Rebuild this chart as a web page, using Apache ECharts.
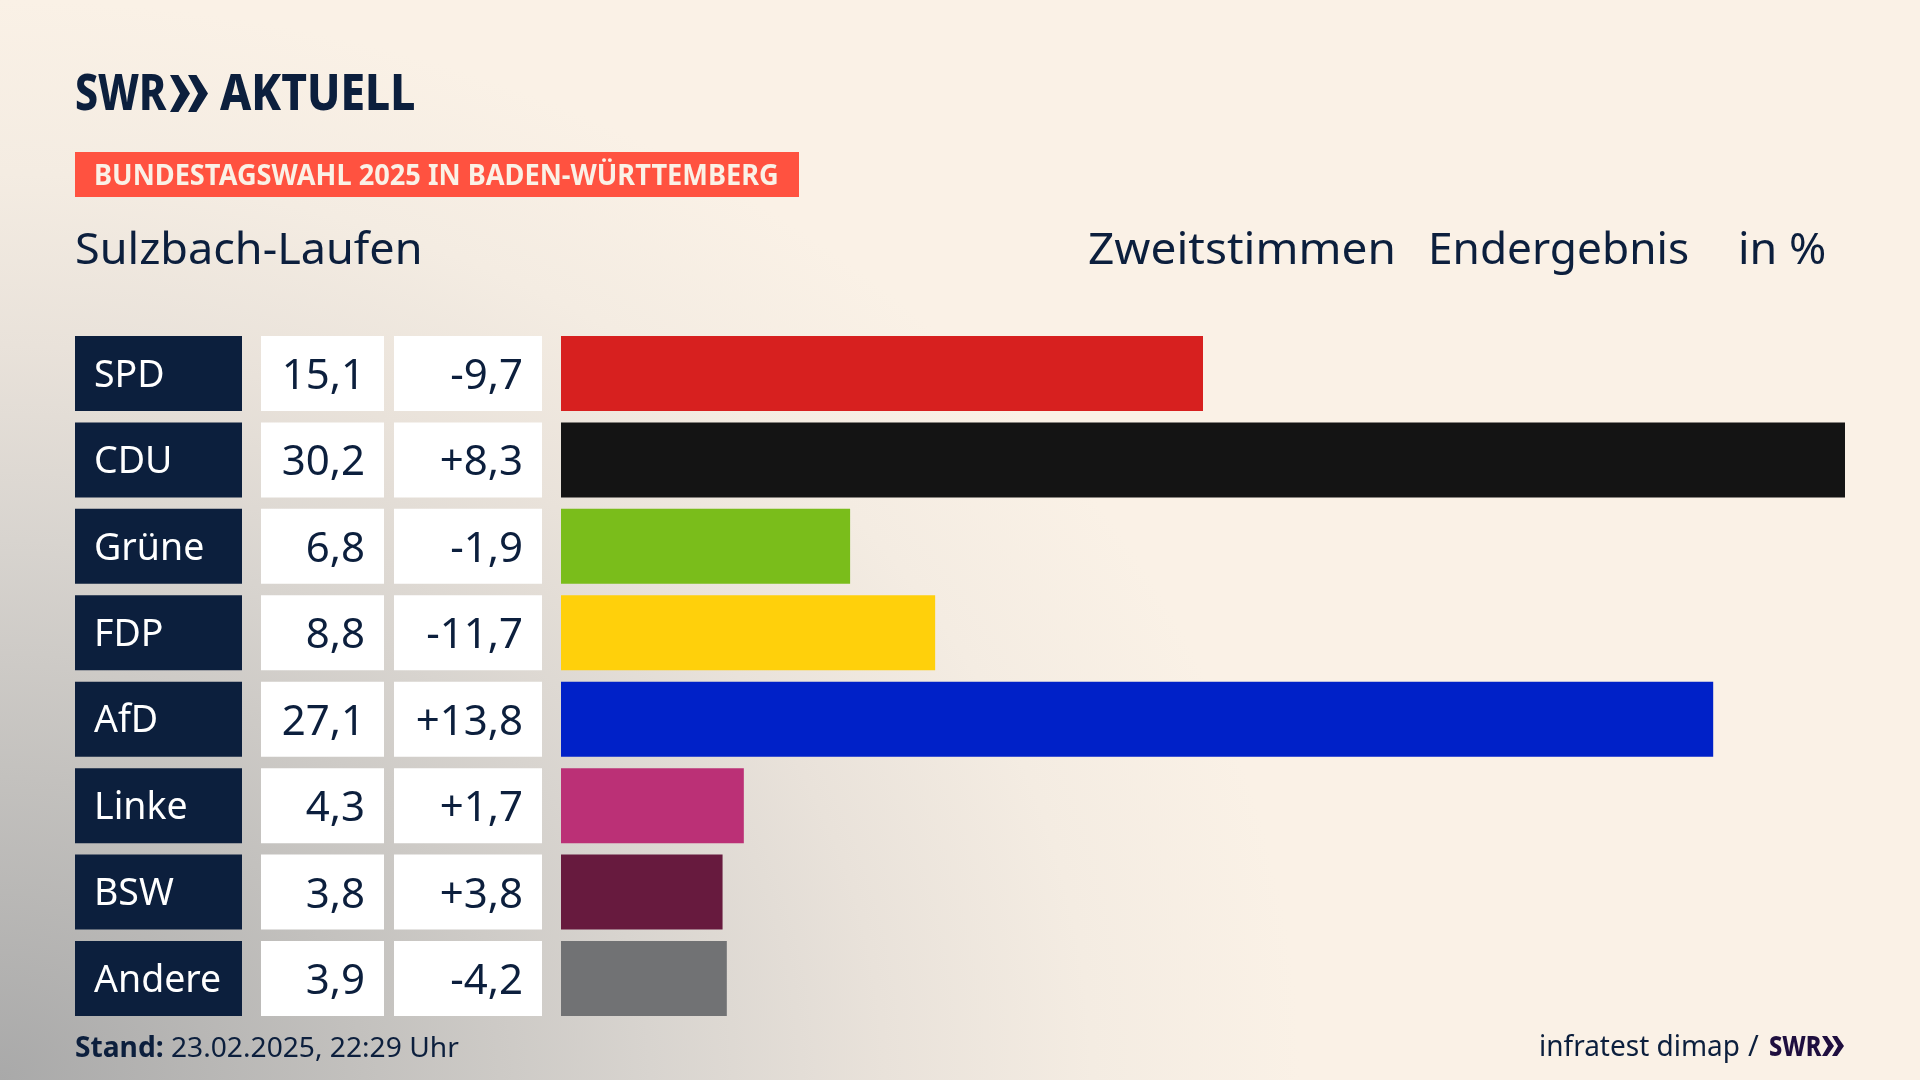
<!DOCTYPE html>
<html>
<head>
<meta charset="utf-8">
<title>Sulzbach-Laufen</title>
<style>
body {margin: 0; background-color: #faf1e6; background-image: radial-gradient(ellipse 1300px 1080px at 0px 1080px, #a9a9a9 0%, #c3c1be 28%, #d8d4cf 50%, #e9e2da 68%, #f4ece2 84%, #faf1e6 100%);}
#echart {height: 1080px; width: 1920px;}
</style>
</head>
<body>
<div id='echart'></div>
<script src='https://cdn.jsdelivr.net/npm/echarts@6/dist/echarts.min.js'></script>
<script>
let parties = ['SPD', 'CDU', 'Grüne', 'FDP', 'AfD', 'Linke', 'BSW', 'Andere']
let shares = [15.1, 30.2, 6.8, 8.8, 27.1, 4.3, 3.8, 3.9]
let changes = [-9.7, 8.3, -1.9, -11.7, 13.8, 1.7, 3.8, -4.2]
let colors = ['#d7201f', '#141414', '#7abd1b', '#ffd00b', '#0021c8', '#bb3076', '#671a3e', '#717274']

let navy = '#0c1f3d'
let rows_top = 330.3
let rows_height = 691.4

let de = (v) => v.toFixed(1).replace('.', ',')
let signed = (v) => (v > 0 ? '+' : '') + de(v)

// one grid per column, all rows share the same band
let columns = [
	{left: 75, width: 167, color: navy},
	{left: 261, width: 123, color: '#ffffff'},
	{left: 394, width: 148, color: '#ffffff'},
	{left: 561, width: 1284},
]
let grid = columns.map((c) => ({left: c.left, width: c.width, top: rows_top, height: rows_height}))
let xAxis = columns.map((c, i) => ({type: 'value', gridIndex: i, min: 0, max: i == 3 ? 30.2 : 1, show: false}))
let yAxis = columns.map((c, i) => ({type: 'category', gridIndex: i, data: parties, inverse: true, show: false}))

function cell(i, labels, color, position, size, dy) {
	return {
		type: 'bar', xAxisIndex: i, yAxisIndex: i, barWidth: 75, silent: true,
		data: parties.map(() => 1),
		itemStyle: {color: columns[i].color},
		label: {show: true, position: position, distance: 19, offset: [0, dy], formatter: (p) => labels[p.dataIndex], color: color, fontFamily: 'Noto Sans', fontSize: size},
	}
}

function chevrons(x, y0, y1, w, gap, fill) {
	let ym = (y0 + y1) / 2
	return [0, 1].map((n) => {
		let a = x + n * gap
		return {type: 'polygon', shape: {points: [[a, y0], [a + w * 0.42, y0], [a + w, ym], [a + w * 0.42, y1], [a, y1], [a + w * 0.5, ym]]}, style: {fill: fill ?? navy}}
	})
}

function text(str, x, y, size, weight, fill, scaleX) {
	return {
		type: 'text', x: x, y: y, scaleX: scaleX ?? 1,
		style: {text: str, fill: fill ?? navy, font: `${weight ?? 400} ${size}px "Noto Sans"`, verticalAlign: 'middle'},
	}
}

let echart = echarts.init(document.querySelector('#echart'))
let option = {
	animation: false,
	backgroundColor: 'transparent',
	grid: grid,
	xAxis: xAxis,
	yAxis: yAxis,
	series: [
		cell(0, parties, '#ffffff', 'insideLeft', 37.5, 2.5),
		cell(1, shares.map(de), navy, 'insideRight', 42, 3.5),
		cell(2, changes.map(signed), navy, 'insideRight', 42, 3.5),
		{
			type: 'bar', xAxisIndex: 3, yAxisIndex: 3, barWidth: 75, silent: true,
			data: shares.map((v, i) => ({value: v, itemStyle: {color: colors[i]}})),
		},
	],
	graphic: [
		text('SWR', 75, 96, 50, 800, navy, 0.82),
		...chevrons(170, 75, 112, 20, 18),
		text('AKTUELL', 220, 96, 50, 800, navy, 0.885),
		{type: 'rect', shape: {x: 75, y: 152, width: 724, height: 45}, style: {fill: '#ff5240'}},
		text('BUNDESTAGSWAHL 2025 IN BADEN-WÜRTTEMBERG', 94, 177, 28, 700, '#faf1e6', 0.971),
		text('Sulzbach-Laufen', 75, 251, 44, 400, navy, 1.023),
		text('Zweitstimmen', 1088, 251, 44, 400, navy, 1.046),
		text('Endergebnis', 1428, 251, 44, 400, navy, 1.005),
		text('in %', 1738, 251, 44, 400, navy, 1.02),
		{
			type: 'text', x: 75, y: 1049, scaleX: 1.006,
			style: {text: '{b|Stand:} 23.02.2025, 22:29 Uhr', fill: navy, font: '28px "Noto Sans"', verticalAlign: 'middle', rich: {b: {fontWeight: 700, fontSize: 28, fontFamily: 'Noto Sans', fill: navy}}},
		},
		text('infratest dimap', 1539, 1048, 29, 400, navy, 0.965),
		text('/', 1748, 1048, 29),
		text('SWR', 1769, 1048, 28, 800, '#1f0f3f', 0.84),
		...chevrons(1822, 1036, 1056, 12, 10, '#1f0f3f'),
	],
}
echart.setOption(option)
</script>
</body>
</html>
